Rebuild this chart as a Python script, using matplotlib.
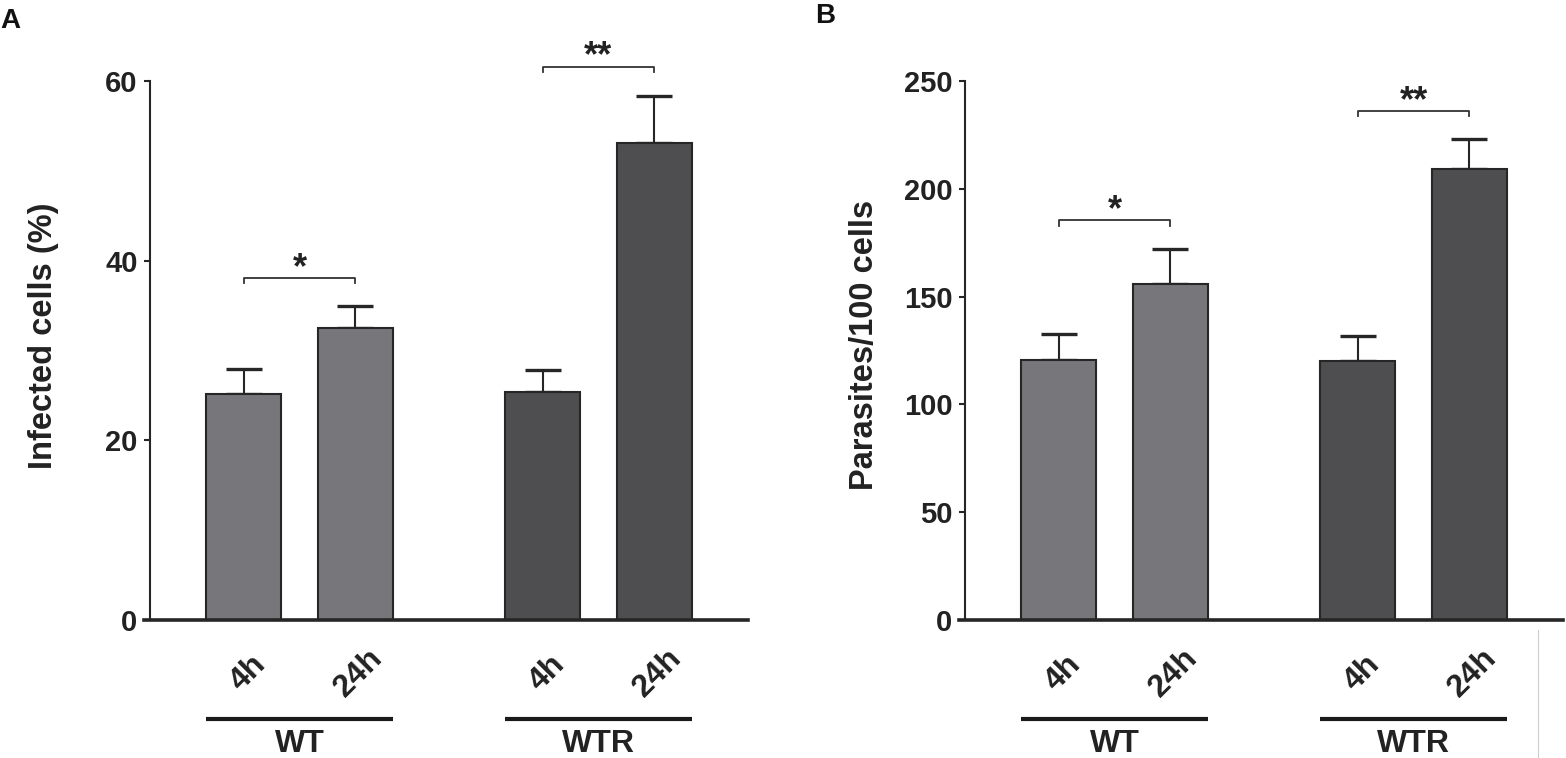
import numpy as np
import matplotlib
matplotlib.use("Agg")
import matplotlib.pyplot as plt
import matplotlib.transforms as mtransforms
from matplotlib.lines import Line2D

plt.rcParams['font.family'] = ['Liberation Sans', 'DejaVu Sans']
plt.rcParams['font.weight'] = 'bold'

# data
groups = ['WT', 'WTR']
times = ['4h', '24h', '4h', '24h']
infected_mean = [25.2, 32.5, 25.4, 53.1]
infected_err = [2.7, 2.4, 2.4, 5.2]
parasites_mean = [120.6, 156.0, 120.1, 209.0]
parasites_err = [12.1, 16.3, 11.7, 14.0]
infected_sig = [38.1, 61.6]
parasites_sig = [185.3, 236.0]
sig_marks = ['*', '**']

# layout
xpos = np.array([0, 1, 2.68, 3.68])
width = 0.67
colors = ['#77777b', '#77777b', '#4e4e50', '#4e4e50']
edge = '#262626'

W, H = 1566, 758
fig = plt.figure(figsize=(W / 100, H / 100), dpi=100)


def panel(left_px, means, errs, ymax, yticks, sig, tick_drop):
    ax = fig.add_axes([left_px / W, (H - 620) / H, 598 / W, 539 / H])
    ax.bar(xpos, means, width=width, color=colors, edgecolor=edge,
           linewidth=1.5, zorder=3)
    ax.errorbar(xpos, means, yerr=[np.zeros(4), errs], fmt='none',
                ecolor=edge, elinewidth=1.5, capsize=13, capthick=2.4,
                zorder=2)
    ax.set_xlim(-0.84, xpos[-1] + 0.84)
    ax.set_ylim(0, ymax)
    ax.set_yticks(yticks)
    ax.set_yticklabels([str(t) for t in yticks], fontsize=21,
                       fontweight='bold')
    ax.set_xticks([])
    for s in ['top', 'right', 'bottom']:
        ax.spines[s].set_visible(False)
    ax.spines['left'].set_linewidth(1.5)
    ax.spines['left'].set_color(edge)
    ax.tick_params(axis='y', length=4, width=1.5, color=edge, pad=5,
                   labelcolor='#222222')
    # heavy x axis line
    ax.plot([-0.01, 1.0], [0, 0], transform=ax.transAxes, color=edge,
            lw=2.6, clip_on=False, zorder=4)

    # significance brackets
    for k, (i, j) in enumerate([(0, 1), (2, 3)]):
        y = sig[k]
        ax.plot([xpos[i], xpos[i], xpos[j], xpos[j]],
                [y - tick_drop, y, y, y - tick_drop], color='#333333',
                lw=1.3, clip_on=False)
        ax.text((xpos[i] + xpos[j]) / 2, y, sig_marks[k], ha='center',
                va='baseline', fontsize=26, fontweight='bold',
                color='#222222', clip_on=False)

    trans = mtransforms.blended_transform_factory(ax.transData, ax.transAxes)
    for x, t in zip(xpos, times):
        ax.text(x + 0.035, -0.098, t, transform=trans, rotation=45,
                ha='center', va='center', rotation_mode='anchor',
                fontsize=23, fontweight='bold', color='#222222')
    for g, (i, j) in zip(groups, [(0, 1), (2, 3)]):
        ax.plot([xpos[i] - width / 2, xpos[j] + width / 2], [-0.184, -0.184],
                transform=trans, color='#1a1a1a', lw=3.0, clip_on=False,
                solid_capstyle='butt')
        ax.text((xpos[i] + xpos[j]) / 2, -0.230, g, transform=trans,
                ha='center', va='center', fontsize=23, fontweight='bold',
                color='#222222')
    return ax


axA = panel(150, infected_mean, infected_err, 60, [0, 20, 40, 60],
            infected_sig, 0.6)
axB = panel(965, parasites_mean, parasites_err, 250, [0, 50, 100, 150, 200, 250],
            parasites_sig, 2.4)

fig.text(44 / W, (H - 336) / H, 'Infected cells (%)', rotation=90,
         ha='center', va='center', fontsize=23.5, fontweight='bold',
         color='#222222')
fig.text(865 / W, (H - 345) / H, 'Parasites/100 cells', rotation=90,
         ha='center', va='center', fontsize=23.5, fontweight='bold',
         color='#222222')

fig.text(0 / W, (H - 21) / H, 'A', ha='left', va='center', fontsize=20,
         fontweight='bold', color='#111111')
fig.text(815 / W, (H - 16) / H, 'B', ha='left', va='center', fontsize=20,
         fontweight='bold', color='#111111')

# thin grey rule at bottom right
fig.add_artist(Line2D([1538 / W, 1538 / W], [0, (H - 630) / H],
                      color='#cfcfcf', lw=0.8))

fig.savefig('out.png', dpi=100)
